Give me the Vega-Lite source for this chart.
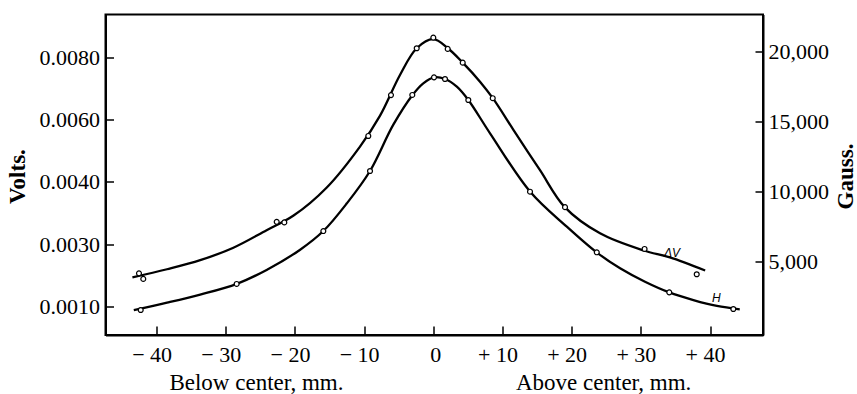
{
  "$schema": "https://vega.github.io/schema/vega-lite/v6.json",
  "width": 657.5,
  "height": 320.5,
  "autosize": {"type": "none"},
  "padding": {"left": 105.5, "top": 14.5, "right": 94, "bottom": 59},
  "background": "white",
  "config": {
    "view": {"stroke": "black", "strokeWidth": 2},
    "axis": {
      "grid": false,
      "domainColor": "black",
      "domainWidth": 2,
      "tickColor": "black",
      "tickWidth": 1.5,
      "labelFont": "Liberation Serif",
      "labelFontSize": 22,
      "labelColor": "black",
      "titleFont": "Liberation Serif",
      "titleColor": "black",
      "labelOverlap": false,
      "labelFlush": false,
      "labelBound": false
    }
  },
  "datasets": {
    "dv_curve": [
      {"x": -43.5, "v": 0.00094},
      {"x": -38.5, "v": 0.0012},
      {"x": -33.7, "v": 0.00149},
      {"x": -28.9, "v": 0.00189},
      {"x": -24.1, "v": 0.00245},
      {"x": -20.2, "v": 0.00292},
      {"x": -15.4, "v": 0.00382},
      {"x": -10.6, "v": 0.00513},
      {"x": -7.7, "v": 0.00612},
      {"x": -4.8, "v": 0.00743},
      {"x": -2.4, "v": 0.00828},
      {"x": 0, "v": 0.00857},
      {"x": 2.1, "v": 0.00828},
      {"x": 4.25, "v": 0.00782},
      {"x": 6.75, "v": 0.00721},
      {"x": 8.6, "v": 0.00668},
      {"x": 11.6, "v": 0.00566},
      {"x": 15.4, "v": 0.00438},
      {"x": 19.0, "v": 0.00319},
      {"x": 24.1, "v": 0.00235},
      {"x": 30.4, "v": 0.0018},
      {"x": 34.2, "v": 0.00158},
      {"x": 39.3, "v": 0.00116}
    ],
    "dv_pts": [
      {"x": -42.55, "v": 0.00107},
      {"x": -41.93, "v": 0.00089},
      {"x": -22.64, "v": 0.00272},
      {"x": -21.54, "v": 0.0027},
      {"x": -9.4, "v": 0.00547},
      {"x": -6.12, "v": 0.00678},
      {"x": -2.4, "v": 0.00828},
      {"x": 0, "v": 0.00862},
      {"x": 2.08, "v": 0.00826},
      {"x": 4.25, "v": 0.00782},
      {"x": 8.59, "v": 0.00668},
      {"x": 19.04, "v": 0.00319},
      {"x": 30.54, "v": 0.00185},
      {"x": 38.08, "v": 0.00104}
    ],
    "dv_label": [
      {"x": 34.5, "v": 0.00172, "label": "ΔV"}
    ],
    "h_curve": [
      {"x": -43.3, "g": 1540},
      {"x": -38.5, "g": 2070},
      {"x": -33.7, "g": 2650},
      {"x": -28.4, "g": 3420},
      {"x": -24.1, "g": 4410},
      {"x": -19.3, "g": 5840},
      {"x": -15.9, "g": 7190},
      {"x": -12.5, "g": 9170},
      {"x": -9.15, "g": 11480},
      {"x": -5.8, "g": 14770},
      {"x": -3.0, "g": 16910},
      {"x": -1.45, "g": 17740},
      {"x": 0.1, "g": 18170},
      {"x": 1.7, "g": 18050},
      {"x": 3.4, "g": 17500},
      {"x": 5.06, "g": 16550},
      {"x": 8.2, "g": 14170},
      {"x": 14.0, "g": 10000},
      {"x": 19.3, "g": 7500},
      {"x": 23.6, "g": 5670},
      {"x": 27.0, "g": 4530},
      {"x": 30.6, "g": 3570},
      {"x": 34.1, "g": 2810},
      {"x": 37.6, "g": 2260},
      {"x": 41.0, "g": 1840},
      {"x": 44.3, "g": 1600}
    ],
    "h_pts": [
      {"x": -42.3, "g": 1550},
      {"x": -28.43, "g": 3410},
      {"x": -15.9, "g": 7190},
      {"x": -9.15, "g": 11480},
      {"x": -3.04, "g": 16910},
      {"x": 0.1, "g": 18170},
      {"x": 1.69, "g": 18050},
      {"x": 5.06, "g": 16550},
      {"x": 13.98, "g": 10000},
      {"x": 23.63, "g": 5670},
      {"x": 34.11, "g": 2810},
      {"x": 43.37, "g": 1620}
    ],
    "h_label": [
      {"x": 40.9, "g": 2390, "label": "H"}
    ]
  },
  "encoding": {
    "x": {
      "field": "x",
      "type": "quantitative",
      "scale": {"domain": [-47.39, 47.66], "nice": false, "zero": false},
      "axis": {
        "values": [-40, -30, -20, -10, 0, 10, 20, 30, 40],
        "labelExpr": "datum.value > 0 ? '+ ' + datum.value : (datum.value < 0 ? '− ' + abs(datum.value) : '0')",
        "labelOffset": {"condition": {"test": "datum.value === 0", "value": 2}, "value": -5},
        "tickSize": -9,
        "labelPadding": 18,
        "title": "Below center, mm.\u00a0\u00a0\u00a0\u00a0\u00a0\u00a0\u00a0\u00a0\u00a0\u00a0\u00a0\u00a0\u00a0\u00a0\u00a0\u00a0\u00a0\u00a0\u00a0\u00a0\u00a0\u00a0\u00a0\u00a0\u00a0\u00a0\u00a0\u00a0\u00a0\u00a0Above center, mm.",
        "titleFontSize": 23,
        "titleFontWeight": "normal",
        "titleX": 324.4,
        "titleY": 54.5,
        "titleAlign": "center",
        "titleBaseline": "alphabetic"
      }
    }
  },
  "layer": [
    {
      "encoding": {
        "y": {
          "field": "v",
          "type": "quantitative",
          "scale": {"domain": [-0.000907, 0.009362], "nice": false, "zero": false},
          "axis": {
            "orient": "left",
            "values": [0, 0.002, 0.004, 0.006, 0.008],
            "labelExpr": "datum.value < 0.001 ? '0.0010' : (datum.value < 0.003 ? '0.0030' : format(datum.value, '.4f'))",
            "tickSize": -8,
            "labelPadding": 14,
            "title": "Volts.",
            "titleFontSize": 23,
            "titleFontWeight": "bold",
            "titleAngle": 270,
            "titleX": -88,
            "titleY": 161.5,
            "titleAlign": "center",
            "titleBaseline": "middle"
          }
        }
      },
      "layer": [
        {
          "data": {"name": "dv_curve"},
          "mark": {"type": "line", "interpolate": "catmull-rom", "color": "black", "strokeWidth": 2.3}
        },
        {
          "data": {"name": "dv_pts"},
          "mark": {"type": "point", "shape": "circle", "size": 24, "filled": true, "fill": "white", "stroke": "black", "strokeWidth": 1.2, "opacity": 1}
        },
        {
          "data": {"name": "dv_label"},
          "mark": {"type": "text", "font": "Liberation Sans", "fontStyle": "italic", "fontSize": 12, "align": "center", "baseline": "middle", "color": "black"},
          "encoding": {"text": {"field": "label"}}
        }
      ]
    },
    {
      "encoding": {
        "y": {
          "field": "g",
          "type": "quantitative",
          "scale": {"domain": [-236, 22658], "nice": false, "zero": false},
          "axis": {
            "orient": "right",
            "values": [5000, 10000, 15000, 20000],
            "format": ",.0f",
            "tickSize": -8,
            "labelPadding": 13,
            "title": "Gauss.",
            "titleFontSize": 23,
            "titleFontWeight": "bold",
            "titleAngle": 270,
            "titleX": 82,
            "titleY": 161.5,
            "titleAlign": "center",
            "titleBaseline": "middle"
          }
        }
      },
      "layer": [
        {
          "data": {"name": "h_curve"},
          "mark": {"type": "line", "interpolate": "catmull-rom", "color": "black", "strokeWidth": 2.3}
        },
        {
          "data": {"name": "h_pts"},
          "mark": {"type": "point", "shape": "circle", "size": 24, "filled": true, "fill": "white", "stroke": "black", "strokeWidth": 1.2, "opacity": 1}
        },
        {
          "data": {"name": "h_label"},
          "mark": {"type": "text", "font": "Liberation Sans", "fontStyle": "italic", "fontSize": 12, "align": "center", "baseline": "middle", "color": "black"},
          "encoding": {"text": {"field": "label"}}
        }
      ]
    }
  ],
  "resolve": {"scale": {"y": "independent"}}
}
